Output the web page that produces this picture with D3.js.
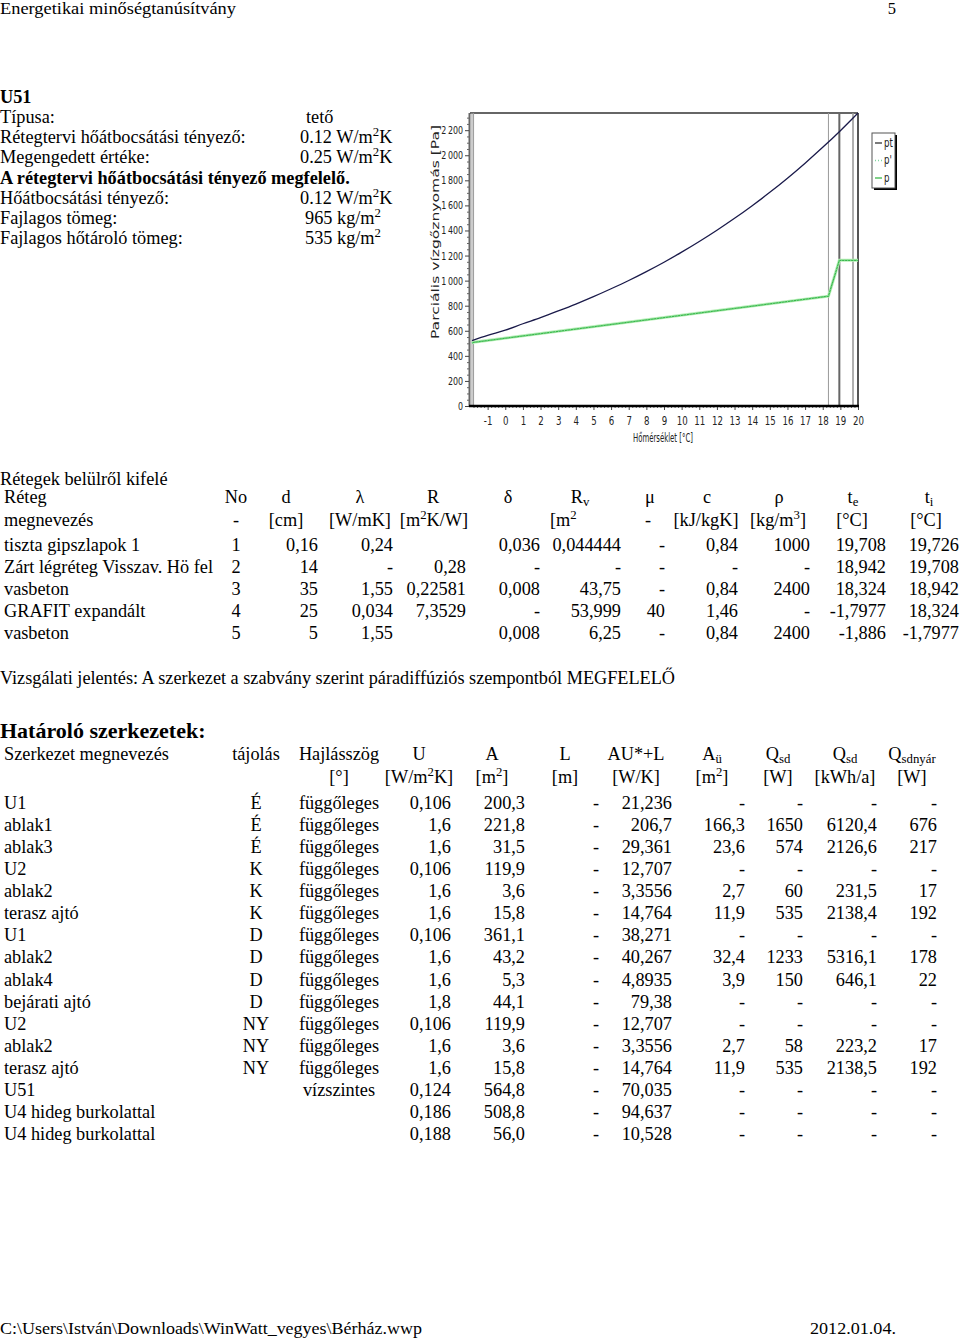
<!DOCTYPE html>
<html><head><meta charset="utf-8">
<script src="https://cdn.jsdelivr.net/npm/d3@7"></script>
<style>
html,body{margin:0;padding:0;background:#fff;}
svg{display:block;}
</style></head>
<body>
<svg id="page" width="960" height="1338"></svg>
<script>
// ---------- DATA ----------
const infoLabels = ["Típusa:", "Rétegtervi hőátbocsátási tényező:", "Megengedett értéke:", "A rétegtervi hőátbocsátási tényező megfelelő.", "Hőátbocsátási tényező:", "Fajlagos tömeg:", "Fajlagos hőtároló tömeg:"];
const infoValues = ["tető", "0.12 W/m^{2}K", "0.25 W/m^{2}K", "", "0.12 W/m^{2}K", "965 kg/m^{2}", "535 kg/m^{2}"];

// Chart: saturation pressure pt and partial pressure p
const ptTemp = [-1.886, -1, 0, 1, 2, 3, 4, 5, 6, 7, 8, 9, 10, 11, 12, 13, 14, 15, 16, 17, 18, 19, 20];
const ptPres = [522, 563, 605, 656, 705, 758, 813, 872, 935, 1001, 1072, 1147, 1227, 1312, 1402, 1497, 1598, 1704, 1817, 1937, 2063, 2196, 2337];
const pTemp = [-1.886, -1.7977, 18.324, 18.942, 20];
const pPres = [500, 508, 876, 1162, 1162];
const layerTemps = [-1.886, -1.7977, 18.324, 18.942, 19.708, 19.726];
const xTicks = d3.range(-1, 21);
const yTicks = d3.range(0, 2201, 200);
const legendLabels = ["pt", "p'", "p"];

// Layer table
const layerHead1 = ["Réteg", "No", "d", "λ", "R", "δ", "R_{v}", "μ", "c", "ρ", "t_{e}", "t_{i}"];
const layerHead2 = ["megnevezés", "-", "[cm]", "[W/mK]", "[m^{2}K/W]", "", "[m^{2}", "-", "[kJ/kgK]", "[kg/m^{3}]", "[°C]", "[°C]"];
const layerName = ["tiszta gipszlapok 1", "Zárt légréteg Visszav. Hö fel", "vasbeton", "GRAFIT expandált", "vasbeton"];
const layerNo = ["1", "2", "3", "4", "5"];
const layerD = ["0,16", "14", "35", "25", "5"];
const layerLambda = ["0,24", "-", "1,55", "0,034", "1,55"];
const layerR = ["", "0,28", "0,22581", "7,3529", ""];
const layerDelta = ["0,036", "-", "0,008", "-", "0,008"];
const layerRv = ["0,044444", "-", "43,75", "53,999", "6,25"];
const layerMu = ["-", "-", "-", "40", "-"];
const layerC = ["0,84", "-", "0,84", "1,46", "0,84"];
const layerRho = ["1000", "-", "2400", "-", "2400"];
const layerTe = ["19,708", "18,942", "18,324", "-1,7977", "-1,886"];
const layerTi = ["19,726", "19,708", "18,942", "18,324", "-1,7977"];

// Boundary structures table
const bHead1 = ["Szerkezet megnevezés", "tájolás", "Hajlásszög", "U", "A", "L", "AU*+L", "A_{ü}", "Q_{sd}", "Q_{sd}", "Q_{sdnyár}"];
const bHead2 = ["", "", "[°]", "[W/m^{2}K]", "[m^{2}]", "[m]", "[W/K]", "[m^{2}]", "[W]", "[kWh/a]", "[W]"];
const bName = ["U1", "ablak1", "ablak3", "U2", "ablak2", "terasz ajtó", "U1", "ablak2", "ablak4", "bejárati ajtó", "U2", "ablak2", "terasz ajtó", "U51", "U4 hideg burkolattal", "U4 hideg burkolattal"];
const bOrient = ["É", "É", "É", "K", "K", "K", "D", "D", "D", "D", "NY", "NY", "NY", "", "", ""];
const bTilt = ["függőleges", "függőleges", "függőleges", "függőleges", "függőleges", "függőleges", "függőleges", "függőleges", "függőleges", "függőleges", "függőleges", "függőleges", "függőleges", "vízszintes", "", ""];
const bU = ["0,106", "1,6", "1,6", "0,106", "1,6", "1,6", "0,106", "1,6", "1,6", "1,8", "0,106", "1,6", "1,6", "0,124", "0,186", "0,188"];
const bA = ["200,3", "221,8", "31,5", "119,9", "3,6", "15,8", "361,1", "43,2", "5,3", "44,1", "119,9", "3,6", "15,8", "564,8", "508,8", "56,0"];
const bL = ["-", "-", "-", "-", "-", "-", "-", "-", "-", "-", "-", "-", "-", "-", "-", "-"];
const bAUL = ["21,236", "206,7", "29,361", "12,707", "3,3556", "14,764", "38,271", "40,267", "4,8935", "79,38", "12,707", "3,3556", "14,764", "70,035", "94,637", "10,528"];
const bAu = ["-", "166,3", "23,6", "-", "2,7", "11,9", "-", "32,4", "3,9", "-", "-", "2,7", "11,9", "-", "-", "-"];
const bQsdW = ["-", "1650", "574", "-", "60", "535", "-", "1233", "150", "-", "-", "58", "535", "-", "-", "-"];
const bQsdK = ["-", "6120,4", "2126,6", "-", "231,5", "2138,4", "-", "5316,1", "646,1", "-", "-", "223,2", "2138,5", "-", "-", "-"];
const bQsn = ["-", "676", "217", "-", "17", "192", "-", "178", "22", "-", "-", "17", "192", "-", "-", "-"];

// ---------- DRAW ----------
const svg = d3.select("#page");
const SERIF = "'Liberation Serif','Times New Roman',serif";
const NARROW = "'Liberation Sans Narrow','DejaVu Sans Condensed','Liberation Sans',sans-serif";
const FS = 18.3;

function rich(sel, str, size) {
  const parts = str.split(/(\^\{[^}]*\}|_\{[^}]*\})/).filter(s => s.length);
  let off = 0;
  parts.forEach(p => {
    let target = 0, txt = p, fs = size;
    if (p.startsWith("^{")) { target = -size * 0.38; txt = p.slice(2, -1); fs = size * 0.7; }
    else if (p.startsWith("_{")) { target = size * 0.18; txt = p.slice(2, -1); fs = size * 0.7; }
    sel.append("tspan").attr("dy", target - off).attr("font-size", fs).text(txt);
    off = target;
  });
}
function txt(x, y, str, opts = {}) {
  const t = svg.append("text").attr("x", x).attr("y", y)
    .attr("font-family", opts.family || SERIF)
    .attr("font-size", opts.size || FS)
    .attr("font-weight", opts.weight || "normal")
    .attr("text-anchor", opts.anchor || "start")
    .attr("fill", opts.fill || "#000");
  if (opts.len) t.attr("textLength", opts.len).attr("lengthAdjust", "spacingAndGlyphs");
  rich(t, str, opts.size || FS);
  return t;
}

// Page header & footer
txt(0, 14, "Energetikai minőségtanúsítvány", {len: 236, size: 16.5});
txt(896, 14, "5", {anchor: "end", size: 16.5});
txt(0, 1334, "C:\\Users\\István\\Downloads\\WinWatt_vegyes\\Bérház.wwp", {len: 422, size: 17});
txt(810, 1334, "2012.01.04.", {len: 86, size: 17});

// Info block
txt(0, 103, "U51", {weight: "bold"});
infoLabels.forEach((l, i) => {
  const y = 123 + i * 20.2;
  txt(0, y, l, {weight: i === 3 ? "bold" : "normal"});
  if (infoValues[i]) txt(i === 0 ? 306 : (i >= 5 ? 305 : 300), y, infoValues[i]);
});

// ---------- CHART ----------
const x = d3.scaleLinear().domain([-2, 20]).range([470, 858]);
const y = d3.scaleLinear().domain([0, 2337]).range([406, 113]);
const g = svg.append("g");
const SX = 0.8;

// borders
g.append("line").attr("x1", 470).attr("x2", 858).attr("y1", 113).attr("y2", 113).attr("stroke", "#333").attr("stroke-width", 1.5);
g.append("line").attr("x1", 858).attr("x2", 858).attr("y1", 113).attr("y2", 406).attr("stroke", "#555").attr("stroke-width", 2);
g.append("line").attr("x1", 469.5).attr("x2", 469.5).attr("y1", 113).attr("y2", 406).attr("stroke", "#666").attr("stroke-width", 2);

// layer boundary lines
layerTemps.forEach((t, i) => {
  g.append("line").attr("x1", x(t)).attr("x2", x(t)).attr("y1", 113).attr("y2", 406)
    .attr("stroke", i === 3 ? "#666" : "#999").attr("stroke-width", i === 3 ? 2 : 1);
});

// y axis
const yAxis = d3.axisLeft(y).tickValues(yTicks).tickSize(4).tickPadding(2)
  .tickFormat(d => d >= 1000 ? String(d).replace(/(\d)(\d{3})$/, "$1\u2009$2") : String(d));
const ya = g.append("g").attr("transform", "translate(469,0)").call(yAxis);
ya.select(".domain").remove();
ya.selectAll("text").attr("font-family", NARROW).attr("font-size", 11).attr("fill", "#222")
  .attr("x", -6 / SX).attr("transform", `scale(${SX},1)`);
ya.selectAll("line").attr("stroke", "#444");
g.append("g").attr("transform", "translate(469,0)")
  .call(d3.axisLeft(y).tickValues(d3.range(0, 2301, 50).filter(v => v % 200)).tickSize(2).tickFormat(""))
  .call(s => s.select(".domain").remove()).selectAll("line").attr("stroke", "#666");

// x axis
const xa = g.append("g").attr("transform", "translate(0,406)")
  .call(d3.axisBottom(x).tickValues(xTicks).tickSize(4).tickPadding(6).tickFormat(d => String(d)));
xa.select(".domain").remove();
xa.selectAll("text").attr("font-family", NARROW).attr("font-size", 12).attr("fill", "#222")
  .attr("transform", `scale(${SX},1)`);
xa.selectAll("line").attr("stroke", "#444");
g.append("g").attr("transform", "translate(0,406)")
  .call(d3.axisBottom(x).tickValues(d3.range(-1.8, 20, 0.2).filter(v => Math.abs(v - Math.round(v)) > 0.05)).tickSize(2).tickFormat(""))
  .call(s => s.select(".domain").remove()).selectAll("line").attr("stroke", "#666");
g.append("line").attr("x1", 469).attr("x2", 859).attr("y1", 406).attr("y2", 406).attr("stroke", "#000").attr("stroke-width", 2.5);

// axis titles
g.append("text").attr("x", 663).attr("y", 442).attr("text-anchor", "middle")
  .attr("font-family", NARROW).attr("font-size", 11.5).attr("fill", "#222")
  .attr("textLength", 60).attr("lengthAdjust", "spacingAndGlyphs").text("Hőmérséklet [°C]");
g.append("text").attr("transform", "translate(439,232) rotate(-90)").attr("text-anchor", "middle")
  .attr("font-family", NARROW).attr("font-size", 10).attr("fill", "#222")
  .attr("textLength", 214).attr("lengthAdjust", "spacingAndGlyphs").text("Parciális vízgőznyomás [Pa]");

// lines
const line = d3.line().x(d => x(d[0])).y(d => y(d[1]));
const pData = d3.zip(pTemp, pPres);
g.append("path").datum(pData).attr("d", line).attr("fill", "none").attr("stroke", "#b8f0b8").attr("stroke-width", 3);
g.append("path").datum(pData).attr("d", line).attr("fill", "none").attr("stroke", "#3cb94a").attr("stroke-width", 1.3);
g.append("path").datum(pData).attr("d", line).attr("fill", "none").attr("stroke", "#7fd6a0").attr("stroke-width", 1).attr("stroke-dasharray", "1,2");
g.append("path").datum(d3.zip(ptTemp, ptPres)).attr("d", line.curve(d3.curveMonotoneX)).attr("fill", "none").attr("stroke", "#1a1a4a").attr("stroke-width", 1.3);

// legend
const lg = svg.append("g");
lg.append("rect").attr("x", 874).attr("y", 135).attr("width", 23).attr("height", 55).attr("fill", "#000");
lg.append("rect").attr("x", 872).attr("y", 133).attr("width", 23).attr("height", 55).attr("fill", "#fff").attr("stroke", "#555").attr("stroke-width", 1);
const lcol = ["#333", "#7fd6a0", "#3cb94a"];
const ldash = [null, "1,2", null];
legendLabels.forEach((l, i) => {
  const yy = 143 + i * 17.5;
  lg.append("line").attr("x1", 875).attr("x2", 882).attr("y1", yy).attr("y2", yy)
    .attr("stroke", lcol[i]).attr("stroke-width", 1.3).attr("stroke-dasharray", ldash[i]);
  lg.append("text").attr("x", 884 / SX).attr("y", yy + 4).attr("transform", `scale(${SX},1)`)
    .attr("font-family", NARROW).attr("font-size", 12).attr("fill", "#222").text(l);
});

// ---------- LAYER TABLE ----------
txt(0, 485, "Rétegek belülről kifelé");
const lHeadX = [4, 236, 286, 360, 433, 508, 580, 650, 707, 779, 853, 929];
const lHeadA = ["start", "middle", "middle", "middle", "middle", "middle", "middle", "middle", "middle", "middle", "middle", "middle"];
layerHead1.forEach((h, i) => txt(lHeadX[i], 503, h, {anchor: lHeadA[i]}));
const lUnitX = [4, 236, 286, 360, 434, 0, 550, 648, 706, 778, 852, 926];
layerHead2.forEach((h, i) => { if (h) txt(lUnitX[i], 526, h, {anchor: (i === 0 || i === 6) ? "start" : "middle"}); });
const lCols = [layerNo, layerD, layerLambda, layerR, layerDelta, layerRv, layerMu, layerC, layerRho, layerTe, layerTi];
const lColX = [236, 318, 393, 466, 540, 621, 665, 738, 810, 886, 959];
layerName.forEach((n, r) => {
  const yy = 551 + r * 22;
  txt(4, yy, n);
  lCols.forEach((col, c) => { if (col[r]) txt(lColX[c], yy, col[r], {anchor: c === 0 ? "middle" : "end"}); });
});

txt(0, 684, "Vizsgálati jelentés: A szerkezet a szabvány szerint páradiffúziós szempontból MEGFELELŐ", {len: 675});

// ---------- BOUNDARY TABLE ----------
txt(0, 738, "Határoló szerkezetek:", {weight: "bold", size: 22});
const bHeadX = [4, 256, 339, 419, 492, 565, 636, 712, 778, 845, 912];
bHead1.forEach((h, i) => txt(bHeadX[i], 760, h, {anchor: i === 0 ? "start" : "middle"}));
bHead2.forEach((h, i) => { if (h) txt(bHeadX[i], 783, h, {anchor: "middle"}); });
const bCols = [bOrient, bTilt, bU, bA, bL, bAUL, bAu, bQsdW, bQsdK, bQsn];
const bColX = [256, 339, 451, 525, 599, 672, 745, 803, 877, 937];
bName.forEach((n, r) => {
  const yy = 809 + r * 22.07;
  txt(4, yy, n);
  bCols.forEach((col, c) => { if (col[r]) txt(bColX[c], yy, col[r], {anchor: c < 2 ? "middle" : "end"}); });
});
</script>
</body></html>
